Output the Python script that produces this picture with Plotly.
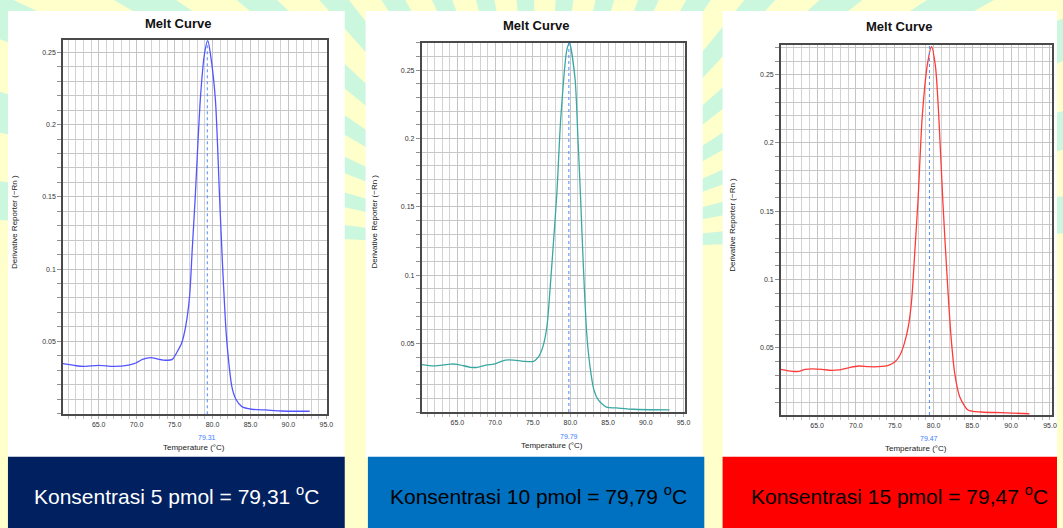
import math
import plotly.graph_objects as go

W, H = 1063, 528

# ---------------- data ----------------
temp_5pmol = [60.29, 62.03, 63.04, 65.0, 66.97, 68.93, 69.9, 70.77, 71.86, 72.95, 73.82, 74.7,
              75.35, 75.92, 76.45, 76.97, 77.32, 77.7, 78.41, 78.94, 79.37, 79.77, 80.38, 80.94,
              81.33, 81.8, 82.2, 82.55, 83.08, 83.87, 85.17, 87.0, 89.1, 92.8]
deriv_5pmol = [0.0345, 0.0331, 0.0327, 0.0334, 0.0327, 0.0336, 0.035, 0.0375, 0.0387, 0.0375, 0.0369, 0.0375,
               0.0428, 0.0486, 0.060, 0.0808, 0.113, 0.148, 0.219, 0.249, 0.2582, 0.247, 0.217, 0.148,
               0.1016, 0.0555, 0.0324, 0.0185, 0.0099, 0.0048, 0.003, 0.0025, 0.0018, 0.0016]

temp_10pmol = [60.25, 61.93, 64.12, 65.0, 66.76, 67.64, 68.96, 69.84, 71.38, 72.48, 73.8, 75.12,
               75.78, 76.35, 76.88, 77.32, 77.76, 78.2, 78.72, 79.52, 79.87, 80.61, 80.97, 81.36,
               81.72, 82.16, 82.6, 83.12, 83.7, 84.8, 86.1, 88.3, 93.15]
deriv_10pmol = [0.0346, 0.0337, 0.0351, 0.0349, 0.0327, 0.0327, 0.0344, 0.0351, 0.038, 0.038, 0.0371, 0.0371,
                0.0405, 0.0478, 0.0624, 0.0917, 0.125, 0.160, 0.215, 0.2648, 0.2698, 0.2441, 0.2039, 0.155,
                0.1063, 0.0576, 0.0332, 0.0161, 0.0088, 0.0035, 0.003, 0.002, 0.0015]

temp_15pmol = [60.33, 61.8, 62.64, 63.5, 65.64, 66.5, 67.77, 69.05, 70.33, 71.6, 72.9, 74.18,
               75.04, 75.68, 76.24, 76.75, 77.18, 77.6, 78.0, 78.54, 79.23, 79.74, 80.25, 80.68,
               81.19, 81.67, 82.22, 82.73, 83.37, 84.44, 86.15, 88.7, 92.35]
deriv_15pmol = [0.0342, 0.0327, 0.0327, 0.0342, 0.0342, 0.0335, 0.0337, 0.0353, 0.0366, 0.0361, 0.0361, 0.0371,
                0.0397, 0.0447, 0.0532, 0.0654, 0.085, 0.1216, 0.158, 0.219, 0.2583, 0.2705, 0.2559, 0.219,
                0.158, 0.1093, 0.0605, 0.0312, 0.0141, 0.0044, 0.0029, 0.0024, 0.0016]

tm_values = [79.31, 79.79, 79.47]
tm_labels = ["79.31", "79.79", "79.47"]
box_texts = ["Konsentrasi 5 pmol = 79,31 <sup>o</sup>C",
             "Konsentrasi 10 pmol = 79,79 <sup>o</sup>C",
             "Konsentrasi 15 pmol = 79,47 <sup>o</sup>C"]

x_tick_vals = [65, 70, 75, 80, 85, 90, 95]
x_tick_text = ["65.0", "70.0", "75.0", "80.0", "85.0", "90.0", "95.0"]
y_tick_vals = [0.05, 0.1, 0.15, 0.2, 0.25]
y_tick_text = ["0.05", "0.1", "0.15", "0.2", "0.25"]

series_x = [temp_5pmol, temp_10pmol, temp_15pmol]
series_y = [deriv_5pmol, deriv_10pmol, deriv_15pmol]

# ---------------- layout geometry (pixels) ----------------
FONT = "Liberation Sans, Arial, sans-serif"


def px(x):
    return x / W


def py(y):
    return 1 - y / H


panels = [
    dict(plot=(63.3, 40.3, 329.0, 414.3), xr=(60.29, 95.1), yr=(-0.0005, 0.2583),
         white=(8, 11, 346.7, 457), box=(8, 456.7, 346.7, 528), boxcolor="#002060",
         textcolor="#ffffff", textx=177.5, color="#5454ff", title=(178.8, 23.3),
         ytitle=(15, 222), xtitle=(195.5, 447.7), tm_y=437.7),
    dict(plot=(424.0, 42.7, 689.0, 412.0), xr=(60.25, 95.22), yr=(0.0, 0.2702),
         white=(367.7, 11, 706.7, 457), box=(370, 456.7, 708.3, 528), boxcolor="#0070c0",
         textcolor="#000000", textx=541.5, color="#3aa8a2", title=(539.3, 25.0),
         ytitle=(376.7, 222), xtitle=(555.5, 445.7), tm_y=436.0),
    dict(plot=(785.3, 44.7, 1057.5, 415.0), xr=(60.33, 95.2), yr=(0.0007, 0.272),
         white=(726.7, 11, 1063, 457), box=(726.7, 456.7, 1063, 528), boxcolor="#ff0000",
         textcolor="#000000", textx=904.8, color="#ff3a3a", title=(904.0, 26.7),
         ytitle=(736.0, 225), xtitle=(920.8, 448.3), tm_y=438.7),
]

fig = go.Figure()
shapes = []
annotations = []

# background sunburst rays (decorative)
cx, cy, R = 545, 250, 1200
n_rays = 20
for k in range(n_rays):
    a0 = math.radians((k + 0.2) * 180 / n_rays)
    a1 = math.radians((k + 0.65) * 180 / n_rays)
    x1, y1 = cx + R * math.cos(a0), cy - R * math.sin(a0)
    x2, y2 = cx + R * math.cos(a1), cy - R * math.sin(a1)
    path = f"M {px(cx)},{py(cy)} L {px(x1)},{py(y1)} L {px(x2)},{py(y2)} Z"
    shapes.append(dict(type="path", path=path, xref="paper", yref="paper",
                       fillcolor="#ccf7df", line=dict(width=0), layer="below"))

for i, p in enumerate(panels):
    n = "" if i == 0 else str(i + 1)
    xa, ya = "x" + n, "y" + n
    l, t, r, b = p["plot"]

    # white panel + colored caption box
    wl, wt, wr, wb = p["white"]
    shapes.append(dict(type="rect", xref="paper", yref="paper", x0=px(wl), x1=px(wr),
                       y0=py(wb), y1=py(wt), fillcolor="#ffffff", line=dict(width=0), layer="below"))
    bl, bt, br, bb = p["box"]
    shapes.append(dict(type="rect", xref="paper", yref="paper", x0=px(bl), x1=px(br),
                       y0=py(bb), y1=py(bt), fillcolor=p["boxcolor"], line=dict(width=0), layer="below"))

    fig.add_trace(go.Scatter(x=series_x[i], y=series_y[i], mode="lines",
                             line=dict(color=p["color"], width=1.3, shape="spline", smoothing=0.7),
                             xaxis=xa, yaxis=ya, showlegend=False, hoverinfo="skip"))

    # Tm dotted line
    shapes.append(dict(type="line", xref=xa, yref=ya + " domain", x0=tm_values[i], x1=tm_values[i],
                       y0=0, y1=1, line=dict(color="#4d8cff", width=1, dash="dot")))

    fig.update_layout(**{
        "xaxis" + n: dict(domain=[px(l), px(r)], range=list(p["xr"]), anchor=ya,
                          tickmode="array", tickvals=x_tick_vals, ticktext=x_tick_text,
                          ticks="outside", ticklen=3, tickcolor="#b0b0b0",
                          tickfont=dict(family=FONT, size=7, color="#333333"),
                          showgrid=True, gridcolor="#c4c4c4", gridwidth=1,
                          minor=dict(dtick=1, tick0=60, showgrid=True, gridcolor="#d2d2d2",
                                     gridwidth=1, ticks="outside", ticklen=3, tickcolor="#c0c0c0"),
                          showline=True, linecolor="#4a4a4a", linewidth=1.5, mirror=True,
                          zeroline=False, fixedrange=True),
        "yaxis" + n: dict(domain=[py(b), py(t)], range=list(p["yr"]), anchor=xa,
                          tickmode="array", tickvals=y_tick_vals, ticktext=y_tick_text,
                          ticks="outside", ticklen=4, tickcolor="#909090",
                          tickfont=dict(family=FONT, size=7, color="#333333"),
                          showgrid=True, gridcolor="#c4c4c4", gridwidth=1,
                          minor=dict(dtick=0.01, tick0=0, showgrid=True, gridcolor="#c8c8c8",
                                     gridwidth=1, ticks="outside", ticklen=4, tickcolor="#909090"),
                          showline=True, linecolor="#4a4a4a", linewidth=1.5, mirror=True,
                          zeroline=False, fixedrange=True),
    })

    # texts
    annotations.append(dict(text="<b>Melt Curve</b>", x=px(p["title"][0]), y=py(p["title"][1]),
                            xref="paper", yref="paper", showarrow=False,
                            font=dict(family=FONT, size=13, color="#111111"),
                            xanchor="center", yanchor="middle"))
    annotations.append(dict(text="Derivative Reporter (\u2212Rn )", x=px(p["ytitle"][0]),
                            y=py(p["ytitle"][1]), xref="paper", yref="paper", showarrow=False,
                            textangle=-90, font=dict(family=FONT, size=8, color="#222222"),
                            xanchor="center", yanchor="middle"))
    annotations.append(dict(text="Temperature (\u00b0C)", x=px(p["xtitle"][0]), y=py(p["xtitle"][1]),
                            xref="paper", yref="paper", showarrow=False,
                            font=dict(family=FONT, size=8, color="#222222"),
                            xanchor="center", yanchor="middle"))
    annotations.append(dict(text=tm_labels[i], x=tm_values[i], y=py(p["tm_y"]),
                            xref=xa, yref="paper", showarrow=False,
                            font=dict(family=FONT, size=7, color="#3c7cff"),
                            xanchor="center", yanchor="middle"))
    annotations.append(dict(text=box_texts[i], x=px(p["textx"]), y=py(495),
                            xref="paper", yref="paper", showarrow=False,
                            font=dict(family=FONT, size=21, color=p["textcolor"]),
                            xanchor="center", yanchor="middle"))

fig.update_layout(width=W, height=H, margin=dict(l=0, r=0, t=0, b=0),
                  paper_bgcolor="#ffffcc", plot_bgcolor="#ffffff",
                  shapes=shapes, annotations=annotations, showlegend=False)

fig.write_html("out.html", config={"displayModeBar": False})
